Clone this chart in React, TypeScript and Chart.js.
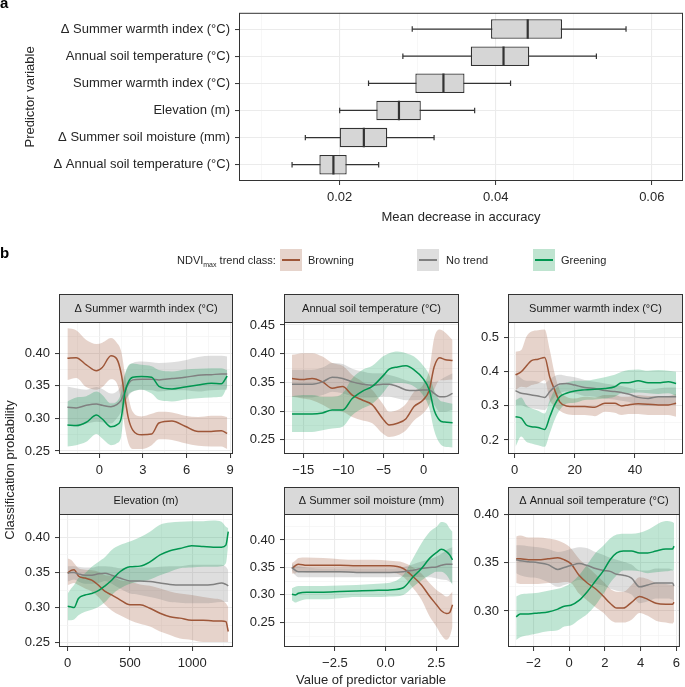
import React, { useEffect, useRef } from 'react';
import { Chart, registerables } from 'chart.js';

Chart.register(...registerables);

const PAGE_W = 685;
const PAGE_H = 687;
const FONT = "'Liberation Sans', Arial, Helvetica, sans-serif";
const TEXT = '#262626';
const FRAME = '#333333';

// ---------------- Panel a: variable importance (box plots) ----------------
const predictors = [
  'Δ Summer warmth index (°C)',
  'Annual soil temperature (°C)',
  'Summer warmth index (°C)',
  'Elevation (m)',
  'Δ Summer soil moisture (mm)',
  'Δ Annual soil temperature (°C)',
];
const boxMin = [0.0293, 0.0281, 0.0237, 0.02, 0.0156, 0.0139];
const boxQ1 = [0.0394, 0.0368, 0.0297, 0.0247, 0.02, 0.0174];
const boxMed = [0.0441, 0.041, 0.0333, 0.0276, 0.0231, 0.0192];
const boxQ3 = [0.0485, 0.0443, 0.036, 0.0304, 0.0261, 0.0209];
const boxMax = [0.0567, 0.0529, 0.0419, 0.0373, 0.0321, 0.025];
const accTicks = [0.02, 0.04, 0.06];
const accTickLabels = ['0.02', '0.04', '0.06'];
const accMinor = [0.01, 0.03, 0.05];

// ---------------- Panel b: partial dependence per predictor ----------------
const classNames = ['Browning', 'No trend', 'Greening'];

// Δ Summer warmth index
const f1X = [-2.2, -1.6, -0.9, -0.2, 0.2, 0.8, 1.2, 1.5, 1.75, 2.0, 2.3, 2.9, 3.6, 4.1, 5.0, 5.9, 6.8, 7.7, 8.4, 8.8];
const f1BrownMean = [0.392, 0.393, 0.382, 0.373, 0.378, 0.396, 0.391, 0.369, 0.333, 0.3, 0.282, 0.275, 0.276, 0.293, 0.296, 0.288, 0.28, 0.28, 0.281, 0.277];
const f1BrownHi = [0.438, 0.435, 0.42, 0.414, 0.416, 0.423, 0.416, 0.403, 0.369, 0.333, 0.31, 0.303, 0.307, 0.31, 0.309, 0.304, 0.302, 0.304, 0.304, 0.302];
const f1BrownLo = [0.359, 0.362, 0.348, 0.344, 0.348, 0.36, 0.354, 0.328, 0.287, 0.262, 0.253, 0.253, 0.259, 0.268, 0.267, 0.262, 0.258, 0.257, 0.257, 0.253];
const f1GrayMean = [0.317, 0.316, 0.32, 0.322, 0.32, 0.318, 0.321, 0.328, 0.341, 0.353, 0.359, 0.36, 0.36, 0.359, 0.361, 0.363, 0.366, 0.367, 0.368, 0.368];
const f1GrayHi = [0.349, 0.346, 0.344, 0.348, 0.345, 0.338, 0.341, 0.351, 0.367, 0.38, 0.385, 0.387, 0.386, 0.385, 0.386, 0.389, 0.394, 0.396, 0.396, 0.395];
const f1GrayLo = [0.292, 0.287, 0.292, 0.295, 0.294, 0.292, 0.3, 0.31, 0.323, 0.334, 0.341, 0.344, 0.343, 0.341, 0.343, 0.343, 0.341, 0.343, 0.344, 0.344];
const f1GreenMean = [0.29, 0.289, 0.294, 0.305, 0.299, 0.287, 0.29, 0.3, 0.339, 0.356, 0.363, 0.364, 0.363, 0.349, 0.345, 0.348, 0.351, 0.354, 0.353, 0.365];
const f1GreenHi = [0.326, 0.332, 0.334, 0.341, 0.336, 0.323, 0.326, 0.339, 0.367, 0.381, 0.384, 0.382, 0.38, 0.374, 0.372, 0.375, 0.376, 0.377, 0.377, 0.374];
const f1GreenLo = [0.257, 0.259, 0.264, 0.276, 0.269, 0.259, 0.262, 0.272, 0.321, 0.336, 0.341, 0.344, 0.338, 0.328, 0.326, 0.329, 0.331, 0.332, 0.333, 0.348];

// Annual soil temperature
const f2X = [-16.4, -15.1, -13.9, -12.6, -11.4, -10.1, -8.9, -7.6, -6.4, -5.1, -4.3, -3.25, -2.2, -1.2, -0.1, 0.7, 1.3, 2.0, 2.6, 3.6];
const f2BrownMean = [0.357, 0.355, 0.357, 0.351, 0.34, 0.343, 0.328, 0.319, 0.311, 0.287, 0.276, 0.279, 0.287, 0.308, 0.319, 0.337, 0.377, 0.393, 0.39, 0.388];
const f2BrownHi = [0.398, 0.401, 0.401, 0.395, 0.384, 0.379, 0.363, 0.351, 0.337, 0.313, 0.299, 0.302, 0.313, 0.334, 0.345, 0.372, 0.427, 0.442, 0.438, 0.424];
const f2BrownLo = [0.325, 0.322, 0.319, 0.311, 0.302, 0.299, 0.29, 0.284, 0.279, 0.261, 0.255, 0.258, 0.267, 0.284, 0.296, 0.311, 0.337, 0.354, 0.354, 0.355];
const f2GrayMean = [0.347, 0.347, 0.347, 0.351, 0.359, 0.357, 0.351, 0.347, 0.345, 0.347, 0.347, 0.343, 0.337, 0.336, 0.337, 0.337, 0.331, 0.325, 0.325, 0.331];
const f2GrayHi = [0.372, 0.372, 0.372, 0.376, 0.384, 0.382, 0.374, 0.369, 0.366, 0.366, 0.363, 0.359, 0.354, 0.351, 0.351, 0.353, 0.351, 0.354, 0.359, 0.366];
const f2GrayLo = [0.325, 0.324, 0.324, 0.328, 0.334, 0.331, 0.326, 0.324, 0.324, 0.325, 0.325, 0.322, 0.319, 0.319, 0.32, 0.32, 0.311, 0.299, 0.299, 0.302];
const f2GreenMean = [0.295, 0.295, 0.295, 0.297, 0.302, 0.302, 0.322, 0.335, 0.343, 0.361, 0.373, 0.377, 0.379, 0.372, 0.357, 0.337, 0.302, 0.284, 0.281, 0.28];
const f2GreenHi = [0.326, 0.328, 0.328, 0.325, 0.325, 0.331, 0.357, 0.372, 0.379, 0.395, 0.401, 0.404, 0.401, 0.395, 0.38, 0.363, 0.337, 0.319, 0.316, 0.313];
const f2GreenLo = [0.264, 0.264, 0.264, 0.267, 0.27, 0.273, 0.293, 0.305, 0.313, 0.331, 0.345, 0.349, 0.348, 0.343, 0.328, 0.305, 0.267, 0.244, 0.238, 0.237];

// Summer warmth index
const f3X = [0.3, 2.2, 3.9, 5.6, 7.8, 10, 11.7, 13.3, 15, 17.2, 20, 23.3, 26.7, 30, 33.3, 35.6, 37.8, 41.1, 44.4, 47.8, 51.1, 53.7];
const f3BrownMean = [0.391, 0.4, 0.417, 0.433, 0.437, 0.442, 0.384, 0.347, 0.312, 0.3, 0.298, 0.298, 0.296, 0.308, 0.308, 0.3, 0.303, 0.306, 0.305, 0.303, 0.303, 0.308];
const f3BrownHi = [0.459, 0.464, 0.503, 0.518, 0.522, 0.524, 0.464, 0.395, 0.347, 0.327, 0.322, 0.327, 0.325, 0.332, 0.332, 0.327, 0.327, 0.332, 0.329, 0.329, 0.329, 0.335];
const f3BrownLo = [0.347, 0.356, 0.354, 0.361, 0.366, 0.376, 0.317, 0.298, 0.286, 0.276, 0.273, 0.273, 0.27, 0.283, 0.28, 0.273, 0.276, 0.276, 0.273, 0.273, 0.273, 0.268];
const f3GrayMean = [0.345, 0.337, 0.335, 0.332, 0.329, 0.325, 0.342, 0.356, 0.364, 0.366, 0.361, 0.354, 0.351, 0.345, 0.342, 0.339, 0.335, 0.325, 0.322, 0.327, 0.327, 0.327];
const f3GrayHi = [0.397, 0.381, 0.374, 0.374, 0.371, 0.366, 0.378, 0.388, 0.391, 0.388, 0.384, 0.376, 0.371, 0.366, 0.361, 0.358, 0.354, 0.347, 0.347, 0.351, 0.354, 0.354];
const f3GrayLo = [0.303, 0.303, 0.296, 0.293, 0.29, 0.288, 0.308, 0.327, 0.337, 0.342, 0.337, 0.329, 0.327, 0.322, 0.319, 0.315, 0.312, 0.303, 0.3, 0.303, 0.303, 0.303];
const f3GreenMean = [0.268, 0.264, 0.244, 0.239, 0.237, 0.231, 0.268, 0.303, 0.327, 0.337, 0.344, 0.347, 0.349, 0.351, 0.356, 0.368, 0.368, 0.374, 0.368, 0.368, 0.371, 0.366];
const f3GreenHi = [0.317, 0.325, 0.303, 0.293, 0.286, 0.278, 0.317, 0.347, 0.361, 0.368, 0.374, 0.374, 0.378, 0.384, 0.391, 0.4, 0.405, 0.407, 0.403, 0.405, 0.403, 0.4];
const f3GreenLo = [0.18, 0.21, 0.195, 0.19, 0.185, 0.18, 0.22, 0.259, 0.288, 0.306, 0.309, 0.317, 0.319, 0.322, 0.327, 0.337, 0.337, 0.339, 0.337, 0.335, 0.337, 0.329];

// Elevation
const f4X = [0, 27, 51, 86, 139, 193, 246, 300, 353, 420, 500, 580, 660, 741, 821, 901, 995, 1088, 1169, 1235, 1270, 1289];
const f4BrownMean = [0.349, 0.353, 0.354, 0.345, 0.342, 0.339, 0.332, 0.323, 0.318, 0.311, 0.304, 0.304, 0.299, 0.292, 0.287, 0.285, 0.282, 0.282, 0.281, 0.281, 0.28, 0.266];
const f4BrownHi = [0.37, 0.368, 0.363, 0.356, 0.354, 0.353, 0.351, 0.346, 0.345, 0.339, 0.337, 0.333, 0.331, 0.327, 0.323, 0.32, 0.318, 0.315, 0.313, 0.311, 0.306, 0.301];
const f4BrownLo = [0.332, 0.334, 0.335, 0.332, 0.327, 0.323, 0.315, 0.304, 0.296, 0.289, 0.282, 0.277, 0.273, 0.266, 0.261, 0.256, 0.254, 0.251, 0.251, 0.251, 0.251, 0.251];
const f4GrayMean = [0.349, 0.35, 0.35, 0.348, 0.346, 0.346, 0.348, 0.349, 0.346, 0.342, 0.338, 0.338, 0.337, 0.335, 0.333, 0.332, 0.332, 0.332, 0.333, 0.335, 0.333, 0.331];
const f4GrayHi = [0.359, 0.359, 0.359, 0.358, 0.357, 0.357, 0.359, 0.359, 0.358, 0.356, 0.356, 0.357, 0.357, 0.358, 0.359, 0.359, 0.361, 0.361, 0.361, 0.361, 0.358, 0.353];
const f4GrayLo = [0.337, 0.339, 0.34, 0.337, 0.334, 0.334, 0.335, 0.338, 0.334, 0.327, 0.32, 0.318, 0.315, 0.312, 0.308, 0.307, 0.306, 0.306, 0.307, 0.308, 0.308, 0.308];
const f4GreenMean = [0.302, 0.301, 0.3, 0.313, 0.318, 0.32, 0.324, 0.331, 0.339, 0.351, 0.358, 0.359, 0.365, 0.375, 0.381, 0.384, 0.388, 0.387, 0.386, 0.386, 0.389, 0.408];
const f4GreenHi = [0.32, 0.327, 0.332, 0.342, 0.349, 0.358, 0.365, 0.372, 0.382, 0.389, 0.394, 0.4, 0.408, 0.418, 0.421, 0.422, 0.423, 0.423, 0.424, 0.422, 0.415, 0.413];
const f4GreenLo = [0.282, 0.282, 0.283, 0.289, 0.294, 0.297, 0.301, 0.308, 0.318, 0.327, 0.334, 0.337, 0.34, 0.346, 0.351, 0.356, 0.357, 0.358, 0.358, 0.359, 0.363, 0.39];

// Δ Summer soil moisture
const f5X = [-4.62, -4.46, -4.3, -3.89, -3.07, -2.25, -1.43, -0.61, 0.21, 0.87, 1.36, 1.77, 2.18, 2.51, 2.75, 3.0, 3.16, 3.3];
const f5BrownMean = [0.348, 0.353, 0.356, 0.354, 0.354, 0.354, 0.353, 0.353, 0.353, 0.348, 0.333, 0.318, 0.297, 0.282, 0.271, 0.266, 0.268, 0.282];
const f5BrownHi = [0.358, 0.362, 0.367, 0.368, 0.367, 0.365, 0.364, 0.364, 0.362, 0.359, 0.35, 0.339, 0.321, 0.309, 0.303, 0.297, 0.3, 0.306];
const f5BrownLo = [0.339, 0.339, 0.342, 0.341, 0.341, 0.341, 0.341, 0.341, 0.341, 0.333, 0.312, 0.291, 0.26, 0.242, 0.227, 0.218, 0.224, 0.242];
const f5GrayMean = [0.35, 0.345, 0.342, 0.342, 0.342, 0.342, 0.341, 0.341, 0.341, 0.342, 0.345, 0.348, 0.35, 0.351, 0.354, 0.356, 0.356, 0.356];
const f5GrayHi = [0.356, 0.354, 0.353, 0.35, 0.348, 0.348, 0.348, 0.348, 0.348, 0.351, 0.356, 0.361, 0.365, 0.37, 0.375, 0.382, 0.385, 0.387];
const f5GrayLo = [0.345, 0.336, 0.332, 0.332, 0.332, 0.332, 0.332, 0.332, 0.332, 0.333, 0.333, 0.332, 0.332, 0.33, 0.328, 0.327, 0.324, 0.321];
const f5GreenMean = [0.301, 0.3, 0.303, 0.305, 0.305, 0.306, 0.307, 0.308, 0.309, 0.313, 0.333, 0.348, 0.367, 0.377, 0.383, 0.379, 0.373, 0.364];
const f5GreenHi = [0.312, 0.315, 0.316, 0.316, 0.316, 0.317, 0.318, 0.32, 0.322, 0.336, 0.367, 0.394, 0.415, 0.424, 0.433, 0.43, 0.421, 0.415];
const f5GreenLo = [0.29, 0.286, 0.288, 0.292, 0.292, 0.294, 0.296, 0.296, 0.297, 0.3, 0.315, 0.326, 0.336, 0.342, 0.342, 0.336, 0.327, 0.318];

// Δ Annual soil temperature
const f6X = [-2.97, -2.75, -2.29, -1.74, -1.19, -0.64, -0.28, 0.09, 0.55, 1.01, 1.47, 1.93, 2.29, 2.66, 3.03, 3.49, 3.94, 4.4, 4.86, 5.41, 5.78, 5.87];
const f6BrownMean = [0.354, 0.354, 0.353, 0.353, 0.354, 0.355, 0.353, 0.349, 0.337, 0.329, 0.323, 0.315, 0.308, 0.303, 0.303, 0.309, 0.315, 0.312, 0.308, 0.307, 0.307, 0.309];
const f6BrownHi = [0.377, 0.378, 0.376, 0.376, 0.375, 0.373, 0.37, 0.365, 0.354, 0.346, 0.338, 0.33, 0.323, 0.32, 0.32, 0.327, 0.335, 0.333, 0.329, 0.328, 0.327, 0.329];
const f6BrownLo = [0.329, 0.328, 0.328, 0.328, 0.329, 0.329, 0.33, 0.329, 0.318, 0.311, 0.304, 0.298, 0.291, 0.288, 0.288, 0.291, 0.298, 0.295, 0.29, 0.288, 0.287, 0.289];
const f6GrayMean = [0.353, 0.352, 0.351, 0.35, 0.348, 0.343, 0.345, 0.347, 0.349, 0.347, 0.344, 0.342, 0.341, 0.338, 0.337, 0.334, 0.325, 0.327, 0.329, 0.329, 0.329, 0.326];
const f6GrayHi = [0.368, 0.368, 0.367, 0.366, 0.364, 0.361, 0.362, 0.364, 0.366, 0.365, 0.361, 0.358, 0.355, 0.353, 0.351, 0.348, 0.342, 0.342, 0.344, 0.344, 0.343, 0.341];
const f6GrayLo = [0.339, 0.337, 0.335, 0.334, 0.33, 0.325, 0.327, 0.329, 0.332, 0.33, 0.328, 0.326, 0.323, 0.321, 0.32, 0.317, 0.308, 0.31, 0.313, 0.313, 0.312, 0.31];
const f6GreenMean = [0.294, 0.297, 0.297, 0.298, 0.299, 0.302, 0.305, 0.306, 0.311, 0.32, 0.331, 0.342, 0.353, 0.36, 0.362, 0.362, 0.36, 0.36, 0.362, 0.364, 0.364, 0.367];
const f6GreenHi = [0.315, 0.317, 0.318, 0.319, 0.321, 0.323, 0.325, 0.329, 0.337, 0.348, 0.36, 0.368, 0.375, 0.379, 0.38, 0.38, 0.381, 0.384, 0.389, 0.393, 0.392, 0.391];
const f6GreenLo = [0.27, 0.273, 0.275, 0.277, 0.279, 0.28, 0.284, 0.285, 0.291, 0.297, 0.306, 0.318, 0.329, 0.337, 0.342, 0.342, 0.341, 0.339, 0.34, 0.341, 0.342, 0.342];

// tick values / labels of the facets
const f1XTicks = [0, 3, 6, 9];
const f1XLabels = ['0', '3', '6', '9'];
const f1XMinor = [-1.5, 1.5, 4.5, 7.5];
const f2XTicks = [-15, -10, -5, 0];
const f2XLabels = ['\u221215', '\u221210', '\u22125', '0'];
const f2XMinor = [-12.5, -7.5, -2.5, 2.5];
const f3XTicks = [0, 20, 40];
const f3XLabels = ['0', '20', '40'];
const f3XMinor = [10, 30, 50];
const f4XTicks = [0, 500, 1000];
const f4XLabels = ['0', '500', '1000'];
const f4XMinor = [250, 750, 1250];
const f5XTicks = [-2.5, 0, 2.5];
const f5XLabels = ['\u22122.5', '0.0', '2.5'];
const f5XMinor = [-3.75, -1.25, 1.25];
const f6XTicks = [-2, 0, 2, 4, 6];
const f6XLabels = ['\u22122', '0', '2', '4', '6'];
const f6XMinor = [-3, -1, 1, 3, 5];

const probTicks = [0.25, 0.3, 0.35, 0.4];
const probLabels = ['0.25', '0.30', '0.35', '0.40'];
const probMinor = [0.275, 0.325, 0.375, 0.425];
const f2YTicks = [0.25, 0.3, 0.35, 0.4, 0.45];
const f2YLabels = ['0.25', '0.30', '0.35', '0.40', '0.45'];
const f2YMinor = [0.275, 0.325, 0.375, 0.425];
const f3YTicks = [0.2, 0.3, 0.4, 0.5];
const f3YLabels = ['0.2', '0.3', '0.4', '0.5'];
const f3YMinor = [0.25, 0.35, 0.45];
const f5YMinor = [0.225, 0.275, 0.325, 0.375, 0.425];
const f6YTicks = [0.3, 0.35, 0.4];
const f6YLabels = ['0.30', '0.35', '0.40'];
const f6YMinor = [0.275, 0.325, 0.375];

// ---------------- styles ----------------
const classLine = ['rgb(158,86,56)', 'rgb(128,128,128)', 'rgb(0,150,80)'];
const classFill = ['rgba(158,86,56,0.26)', 'rgba(128,128,128,0.26)', 'rgba(0,150,80,0.25)'];
const classKeyFill = ['#e6d4cc', '#dedede', '#bfe4d0'];

type Area = { l: number; t: number; r: number; b: number };

const facets = [
  { title: 'Δ Summer warmth index (°C)', x: f1X, s: [[f1BrownMean, f1BrownLo, f1BrownHi], [f1GrayMean, f1GrayLo, f1GrayHi], [f1GreenMean, f1GreenLo, f1GreenHi]], xr: [-2.78, 9.2], yr: [0.2454, 0.4477], xt: [f1XTicks, f1XLabels, f1XMinor], yt: [probTicks, probLabels, probMinor] },
  { title: 'Annual soil temperature (°C)', x: f2X, s: [[f2BrownMean, f2BrownLo, f2BrownHi], [f2GrayMean, f2GrayLo, f2GrayHi], [f2GreenMean, f2GreenLo, f2GreenHi]], xr: [-17.4, 4.4], yr: [0.2255, 0.4552], xt: [f2XTicks, f2XLabels, f2XMinor], yt: [f2YTicks, f2YLabels, f2YMinor] },
  { title: 'Summer warmth index (°C)', x: f3X, s: [[f3BrownMean, f3BrownLo, f3BrownHi], [f3GrayMean, f3GrayLo, f3GrayHi], [f3GreenMean, f3GreenLo, f3GreenHi]], xr: [-2.2, 56], yr: [0.159, 0.546], xt: [f3XTicks, f3XLabels, f3XMinor], yt: [f3YTicks, f3YLabels, f3YMinor] },
  { title: 'Elevation (m)', x: f4X, s: [[f4BrownMean, f4BrownLo, f4BrownHi], [f4GrayMean, f4GrayLo, f4GrayHi], [f4GreenMean, f4GreenLo, f4GreenHi]], xr: [-70, 1327], yr: [0.2439, 0.4332], xt: [f4XTicks, f4XLabels, f4XMinor], yt: [probTicks, probLabels, probMinor] },
  { title: 'Δ Summer soil moisture (mm)', x: f5X, s: [[f5BrownMean, f5BrownLo, f5BrownHi], [f5GrayMean, f5GrayLo, f5GrayHi], [f5GreenMean, f5GreenLo, f5GreenHi]], xr: [-5.01, 3.62], yr: [0.205, 0.4474], xt: [f5XTicks, f5XLabels, f5XMinor], yt: [probTicks, probLabels, f5YMinor] },
  { title: 'Δ Annual soil temperature (°C)', x: f6X, s: [[f6BrownMean, f6BrownLo, f6BrownHi], [f6GrayMean, f6GrayLo, f6GrayHi], [f6GreenMean, f6GreenLo, f6GreenHi]], xr: [-3.43, 6.2], yr: [0.2628, 0.4003], xt: [f6XTicks, f6XLabels, f6XMinor], yt: [f6YTicks, f6YLabels, f6YMinor] },
];

const facetAreas: Area[] = [
  { l: 59, t: 322, r: 233, b: 454 },
  { l: 284, t: 322, r: 459, b: 454 },
  { l: 508, t: 322, r: 683, b: 454 },
  { l: 59, t: 514, r: 233, b: 647 },
  { l: 284, t: 514, r: 459, b: 647 },
  { l: 508, t: 514, r: 683, b: 647 },
];
const stripHeights = [28, 28, 28, 27, 27, 27];

// ---------------- helpers ----------------
function tickList(major: number[], minor: number[]) {
  return [
    ...major.map((v) => ({ value: v, minor: false })),
    ...minor.map((v) => ({ value: v, minor: true })),
  ].sort((a, b) => a.value - b.value);
}

function linearAxis(o: { min: number; max: number; major: number[]; labels: string[]; minor: number[]; isY: boolean; size: number; title?: string }) {
  const labelOf = new Map<number, string>(o.major.map((v, i) => [v, o.labels[i]]));
  const axis: any = {
    type: 'linear',
    min: o.min,
    max: o.max,
    bounds: 'data',
    offset: false,
    beginAtZero: false,
    afterBuildTicks: (s: any) => {
      s.ticks = tickList(o.major, o.minor);
    },
    afterFit: (s: any) => {
      if (o.isY) s.width = o.size;
      else s.height = o.size;
    },
    ticks: {
      autoSkip: false,
      maxRotation: 0,
      minRotation: 0,
      padding: 5,
      color: TEXT,
      font: { family: FONT, size: 13 },
      callback: (value: number, index: number, ticks: any[]) => (ticks[index] && ticks[index].minor ? '' : labelOf.get(value) ?? ''),
    },
    grid: {
      offset: false,
      drawOnChartArea: true,
      drawTicks: true,
      tickLength: 4,
      color: (c: any) => (c.tick && c.tick.minor ? '#f4f4f4' : '#ebebeb'),
      lineWidth: (c: any) => (c.tick && c.tick.minor ? 0.7 : 1.1),
      tickColor: (c: any) => (c.tick && c.tick.minor ? 'rgba(0,0,0,0)' : FRAME),
      tickWidth: 1,
    },
    border: { display: false },
  };
  if (o.title) {
    axis.title = { display: true, text: o.title, color: TEXT, font: { family: FONT, size: 13 }, padding: { top: 4, bottom: 4 } };
  }
  return axis;
}

const decorPlugin = {
  id: 'decor',
  afterDraw(chart: any, _args: any, opts: any) {
    const { ctx, chartArea: a } = chart;
    ctx.save();
    ctx.strokeStyle = FRAME;
    ctx.lineWidth = 1;
    if (opts && opts.strip) {
      const h = opts.stripH;
      ctx.fillStyle = '#d9d9d9';
      ctx.fillRect(a.left, a.top - h, a.right - a.left, h);
      ctx.strokeRect(a.left + 0.5, a.top - h + 0.5, a.right - a.left - 1, h);
      ctx.fillStyle = '#1a1a1a';
      ctx.font = `11px ${FONT}`;
      ctx.textAlign = 'center';
      ctx.textBaseline = 'middle';
      ctx.fillText(opts.strip, (a.left + a.right) / 2, a.top - h / 2 + 0.5);
    }
    ctx.strokeRect(a.left + 0.5, a.top + 0.5, a.right - a.left - 1, a.bottom - a.top - 1);
    ctx.restore();
  },
};

function padFor(area: Area, yW: number, xH: number) {
  return { left: area.l - yW, top: area.t, right: PAGE_W - area.r, bottom: PAGE_H - area.b - xH };
}

const commonOptions = {
  responsive: false,
  maintainAspectRatio: false,
  animation: false as const,
  devicePixelRatio: 1,
  events: [] as any[],
};

function xy(xs: number[], ys: number[]) {
  return xs.map((x, i) => ({ x, y: ys[i] }));
}

function facetConfig(i: number): any {
  const f = facets[i];
  const area = facetAreas[i];
  const datasets: any[] = [];
  f.s.forEach((ser, k) => {
    const [, lo, hi] = ser;
    datasets.push({
      type: 'line',
      label: classNames[k] + ' upper',
      data: xy(f.x, hi),
      borderColor: 'rgba(0,0,0,0)',
      borderWidth: 0,
      pointRadius: 0,
      backgroundColor: classFill[k],
      fill: '+1',
      cubicInterpolationMode: 'monotone',
      order: 6 - k,
    });
    datasets.push({
      type: 'line',
      label: classNames[k] + ' lower',
      data: xy(f.x, lo),
      borderColor: 'rgba(0,0,0,0)',
      borderWidth: 0,
      pointRadius: 0,
      fill: false,
      cubicInterpolationMode: 'monotone',
      order: 6 - k,
    });
  });
  f.s.forEach((ser, k) => {
    datasets.push({
      type: 'line',
      label: classNames[k],
      data: xy(f.x, ser[0]),
      borderColor: classLine[k],
      borderWidth: 1.5,
      pointRadius: 0,
      fill: false,
      cubicInterpolationMode: 'monotone',
      order: 3 - k,
    });
  });
  return {
    type: 'line',
    data: { datasets },
    plugins: [decorPlugin],
    options: {
      ...commonOptions,
      layout: { padding: padFor(area, 45, 22) },
      scales: {
        x: linearAxis({ min: f.xr[0], max: f.xr[1], major: f.xt[0] as number[], labels: f.xt[1] as string[], minor: f.xt[2] as number[], isY: false, size: 22 }),
        y: linearAxis({ min: f.yr[0], max: f.yr[1], major: f.yt[0] as number[], labels: f.yt[1] as string[], minor: f.yt[2] as number[], isY: true, size: 45 }),
      },
      plugins: {
        legend: { display: false },
        tooltip: { enabled: false },
        decor: { strip: f.title, stripH: stripHeights[i] },
      },
    },
  };
}

function boxConfig(): any {
  const area: Area = { l: 239, t: 7, r: 683, b: 181 };
  const datasets: any[] = [];
  predictors.forEach((_, i) => {
    datasets.push({
      type: 'line',
      data: [{ x: boxMin[i], y: i }, { x: boxMax[i], y: i }],
      borderColor: FRAME,
      borderWidth: 1.2,
      pointRadius: 0,
      fill: false,
      order: 3,
    });
    datasets.push({
      type: 'line',
      data: [{ x: boxMin[i], y: i - 0.1 }, { x: boxMin[i], y: i + 0.1 }],
      borderColor: FRAME,
      borderWidth: 1.2,
      pointRadius: 0,
      fill: false,
      order: 3,
    });
    datasets.push({
      type: 'line',
      data: [{ x: boxMax[i], y: i - 0.1 }, { x: boxMax[i], y: i + 0.1 }],
      borderColor: FRAME,
      borderWidth: 1.2,
      pointRadius: 0,
      fill: false,
      order: 3,
    });
    datasets.push({
      type: 'line',
      data: [{ x: boxMed[i], y: i - 0.36 }, { x: boxMed[i], y: i + 0.36 }],
      borderColor: FRAME,
      borderWidth: 2.2,
      pointRadius: 0,
      fill: false,
      order: 1,
    });
  });
  datasets.push({
    type: 'bar',
    indexAxis: 'y',
    data: predictors.map((_, i) => ({ y: i, x: [boxQ1[i], boxQ3[i]] })),
    backgroundColor: '#d6d6d6',
    borderColor: FRAME,
    borderWidth: 1.3,
    borderSkipped: false,
    barPercentage: 0.72,
    categoryPercentage: 1,
    grouped: false,
    order: 2,
  });
  const pad = { left: 19, top: area.t, right: PAGE_W - area.r, bottom: PAGE_H - area.b - 48 };
  return {
    type: 'bar',
    data: { datasets },
    plugins: [decorPlugin],
    options: {
      ...commonOptions,
      layout: { padding: pad },
      scales: {
        x: linearAxis({ min: 0.0071, max: 0.064, major: accTicks, labels: accTickLabels, minor: accMinor, isY: false, size: 48, title: 'Mean decrease in accuracy' }),
        y: {
          type: 'linear',
          min: -0.6,
          max: 5.6,
          reverse: true,
          bounds: 'data',
          offset: false,
          beginAtZero: false,
          afterBuildTicks: (s: any) => {
            s.ticks = predictors.map((_, i) => ({ value: i }));
          },
          afterFit: (s: any) => {
            s.width = area.l - 19;
          },
          ticks: {
            autoSkip: false,
            padding: 5,
            color: TEXT,
            font: { family: FONT, size: 13 },
            callback: (value: number) => predictors[Math.round(value)],
          },
          grid: { offset: false, color: '#ebebeb', lineWidth: 1.1, tickLength: 4, tickColor: FRAME, tickWidth: 1 },
          border: { display: false },
          title: { display: true, text: 'Predictor variable', color: TEXT, font: { family: FONT, size: 13 }, padding: { top: 4, bottom: 4 } },
        },
      },
      plugins: { legend: { display: false }, tooltip: { enabled: false }, decor: {} },
    },
  };
}

const canvasStyle: React.CSSProperties = { position: 'absolute', left: 0, top: 0, width: PAGE_W, height: PAGE_H };

function ChartLayer({ make }: { make: () => any }) {
  const ref = useRef<HTMLCanvasElement>(null);
  useEffect(() => {
    const chart = new Chart(ref.current as HTMLCanvasElement, make());
    return () => chart.destroy();
  }, []);
  return <canvas ref={ref} width={PAGE_W} height={PAGE_H} style={canvasStyle} />;
}

const keyLefts = [280, 417, 533];
const keyLabelLefts = [308, 446, 561];

export default function App() {
  const txt: React.CSSProperties = { position: 'absolute', whiteSpace: 'nowrap', color: TEXT, fontFamily: FONT };
  return (
    <div style={{ position: 'absolute', left: 0, top: 0, width: PAGE_W, height: PAGE_H, background: '#ffffff', overflow: 'hidden', fontFamily: FONT }}>
      <ChartLayer make={boxConfig} />
      {facets.map((_, i) => (
        <ChartLayer key={i} make={() => facetConfig(i)} />
      ))}
      <div style={{ ...txt, left: 0, top: -5, fontSize: 15, lineHeight: '15px', fontWeight: 'bold', color: '#000' }}>a</div>
      <div style={{ ...txt, left: 0, top: 245, fontSize: 15, lineHeight: '15px', fontWeight: 'bold', color: '#000' }}>b</div>
      <div style={{ ...txt, left: 177, top: 252, fontSize: 11, lineHeight: '16px' }}>
        NDVI<span style={{ fontSize: 7, position: 'relative', top: 3 }}>max</span> trend class:
      </div>
      {classNames.map((name, k) => (
        <React.Fragment key={name}>
          <div style={{ position: 'absolute', left: keyLefts[k], top: 249, width: 22, height: 22, background: classKeyFill[k] }}>
            <div style={{ position: 'absolute', left: 2, top: 10, width: 18, height: 2, background: classLine[k] }} />
          </div>
          <div style={{ ...txt, left: keyLabelLefts[k], top: 252, fontSize: 11, lineHeight: '16px' }}>{name}</div>
        </React.Fragment>
      ))}
      <div style={{ ...txt, left: 10 - 110, top: 470 - 8, width: 220, height: 16, lineHeight: '16px', fontSize: 13, textAlign: 'center', transform: 'rotate(-90deg)' }}>
        Classification probability
      </div>
      <div style={{ ...txt, left: 371 - 150, top: 680 - 8, width: 300, height: 16, lineHeight: '16px', fontSize: 13, textAlign: 'center' }}>
        Value of predictor variable
      </div>
    </div>
  );
}
